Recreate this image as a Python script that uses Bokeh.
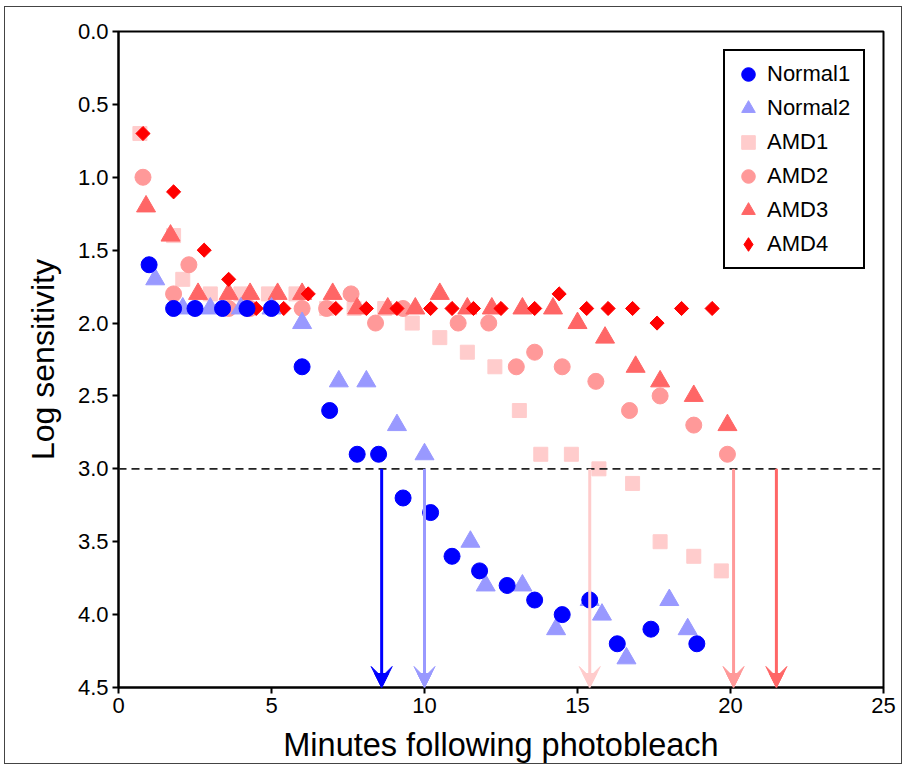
from bokeh.plotting import figure
from bokeh.models import Range1d, FixedTicker, Span, Arrow, VeeHead, NormalHead, PrintfTickFormatter, LegendItem, Legend
from bokeh.embed import file_html
from bokeh.resources import INLINE
import numpy as np

# ---- data ----
normal1_x = [1.0, 1.8, 2.5, 3.4, 4.2, 5.0, 6.0, 6.9, 7.8, 8.5, 9.3, 10.2, 10.9, 11.8, 12.7, 13.6, 14.5, 15.4, 16.3, 17.4, 18.9]
normal1_y = [1.6, 1.9, 1.9, 1.9, 1.9, 1.9, 2.3, 2.6, 2.9, 2.9, 3.2, 3.3, 3.6, 3.7, 3.8, 3.9, 4.0, 3.9, 4.2, 4.1, 4.2]

normal2_x = [1.2, 2.1, 3.0, 4.0, 5.0, 6.0, 7.2, 8.1, 9.1, 10.0, 11.5, 12.0, 13.2, 14.3, 15.4, 15.8, 16.6, 18.0, 18.6]
normal2_y = [1.7, 1.9, 1.9, 1.9, 1.9, 2.0, 2.4, 2.4, 2.7, 2.9, 3.5, 3.8, 3.8, 4.1, 3.9, 4.0, 4.3, 3.9, 4.1]

amd1_x = [0.7, 1.8, 2.1, 3.0, 4.0, 4.9, 5.8, 6.8, 7.7, 8.7, 9.6, 10.5, 11.4, 12.3, 13.1, 13.8, 14.8, 15.7, 16.8, 17.7, 18.8, 19.7]
amd1_y = [0.7, 1.4, 1.7, 1.8, 1.8, 1.8, 1.8, 1.9, 1.9, 1.9, 2.0, 2.1, 2.2, 2.3, 2.6, 2.9, 2.9, 3.0, 3.1, 3.5, 3.6, 3.7]

amd2_x = [0.8, 1.8, 2.3, 3.6, 4.3, 6.0, 6.8, 7.6, 8.4, 9.3, 11.1, 12.1, 13.0, 13.6, 14.5, 15.6, 16.7, 17.7, 18.8, 19.9]
amd2_y = [1.0, 1.8, 1.6, 1.9, 1.9, 1.9, 1.9, 1.8, 2.0, 1.9, 2.0, 2.0, 2.3, 2.2, 2.3, 2.4, 2.6, 2.5, 2.7, 2.9]

amd3_x = [0.9, 1.7, 2.6, 3.6, 4.3, 5.2, 6.0, 7.0, 7.8, 8.8, 9.7, 10.5, 11.4, 12.2, 13.2, 14.2, 15.0, 15.9, 16.9, 17.7, 18.8, 19.9]
amd3_y = [1.2, 1.4, 1.8, 1.8, 1.8, 1.8, 1.8, 1.8, 1.9, 1.9, 1.9, 1.8, 1.9, 1.9, 1.9, 1.9, 2.0, 2.1, 2.3, 2.4, 2.5, 2.7]

amd4_x = [0.8, 1.8, 2.8, 3.6, 4.5, 5.4, 6.2, 7.1, 8.1, 9.1, 10.2, 10.9, 11.6, 12.5, 13.6, 14.4, 15.3, 16.0, 16.8, 17.6, 18.4, 19.4]
amd4_y = [0.7, 1.1, 1.5, 1.7, 1.9, 1.9, 1.8, 1.9, 1.9, 1.9, 1.9, 1.9, 1.9, 1.9, 1.9, 1.8, 1.9, 1.9, 1.9, 2.0, 1.9, 1.9]

threshold = 3.0
arrow_x = [8.6, 10.0, 15.4, 20.1, 21.5]
arrow_colors = ["#0000FF", "#9999FF", "#FFCCCC", "#FF9999", "#FF6666"]

x_ticks = [0, 5, 10, 15, 20, 25]
y_ticks = [0.0, 0.5, 1.0, 1.5, 2.0, 2.5, 3.0, 3.5, 4.0, 4.5]

FONT = "Liberation Sans"

p = figure(width=898, height=758, output_backend="svg", toolbar_location=None,
           x_range=Range1d(0, 25), y_range=Range1d(4.5, 0),
           min_border_left=113, min_border_right=20, min_border_top=24, min_border_bottom=78,
           x_axis_label="Minutes following photobleach", y_axis_label="Log sensitivity",
           styles={"border": "1px solid #444", "margin-left": "4px", "margin-top": "6px"})

p.xgrid.visible = False
p.ygrid.visible = False
p.outline_line_color = "black"
p.outline_line_width = 2

for ax in (p.xaxis[0], p.yaxis[0]):
    ax.axis_line_width = 2
    ax.axis_line_color = "black"
    ax.major_tick_line_width = 2
    ax.major_tick_out = 6
    ax.major_tick_in = 0
    ax.minor_tick_line_color = None
    ax.major_label_text_font = FONT
    ax.major_label_text_font_size = "22px"
    ax.major_label_text_color = "black"
    ax.axis_label_text_font = FONT
    ax.axis_label_text_font_style = "normal"
    ax.axis_label_text_color = "black"

p.xaxis.axis_label_text_font_size = "32.5px"
p.yaxis.axis_label_text_font_size = "32px"
p.xaxis.ticker = FixedTicker(ticks=x_ticks)
p.yaxis.ticker = FixedTicker(ticks=y_ticks)
p.yaxis.formatter = PrintfTickFormatter(format="%.1f")
p.xaxis.major_label_standoff = 4
p.yaxis.major_label_standoff = 4
p.xaxis.axis_label_standoff = 11
p.yaxis.axis_label_standoff = 14

# threshold line
p.add_layout(Span(location=threshold, dimension="width", line_color="#222222",
                  line_width=1.6, line_dash="8 5"))

# arrows (notched heads: vee head plus a smaller filled triangle inside)
for ax_, c in zip(arrow_x, arrow_colors):
    p.add_layout(Arrow(end=VeeHead(size=21, fill_color=c, fill_alpha=1.0, line_color=c, line_width=1),
                       x_start=ax_, y_start=threshold, x_end=ax_, y_end=4.5,
                       line_color=c, line_width=3))
    p.add_layout(Arrow(end=NormalHead(size=14, fill_color=c, fill_alpha=1.0, line_color=c, line_width=1),
                       x_start=ax_, y_start=threshold, x_end=ax_, y_end=4.5,
                       line_alpha=0))

# legend proxy for AMD4 (hidden beneath the rotated squares)
r_amd4_leg = p.scatter(amd4_x, amd4_y, marker="diamond", size=12, color="#FF0000")
r_amd1 = p.scatter(amd1_x, amd1_y, marker="square", size=14, color="#FFCCCC")
r_amd2 = p.scatter(amd2_x, amd2_y, marker="circle", size=16, color="#FF9999")
r_amd3 = p.scatter(amd3_x, amd3_y, marker="triangle", size=19, color="#FF6666")
r_amd4 = p.scatter(amd4_x, amd4_y, marker="square", size=10, angle=np.pi / 4, color="#FF0000")
r_n2 = p.scatter(normal2_x, normal2_y, marker="triangle", size=19, color="#9999FF")
r_n1 = p.scatter(normal1_x, normal1_y, marker="circle", size=16, color="#0000FF")

leg = Legend(items=[
    LegendItem(label="Normal1", renderers=[r_n1]),
    LegendItem(label="Normal2", renderers=[r_n2]),
    LegendItem(label="AMD1", renderers=[r_amd1]),
    LegendItem(label="AMD2", renderers=[r_amd2]),
    LegendItem(label="AMD3", renderers=[r_amd3]),
    LegendItem(label="AMD4", renderers=[r_amd4_leg]),
])
leg.location = "top_right"
leg.margin = 18
leg.padding = 6
leg.spacing = -1
leg.glyph_height = 34
leg.glyph_width = 34
leg.label_height = 20
leg.label_width = 90
leg.label_standoff = 2
leg.label_text_font = FONT
leg.label_text_font_size = "22px"
leg.label_text_color = "black"
leg.border_line_color = "black"
leg.border_line_width = 2
leg.border_line_alpha = 1
leg.background_fill_alpha = 1
p.add_layout(leg, "center")

open("out.html", "w").write(file_html(p, INLINE))
